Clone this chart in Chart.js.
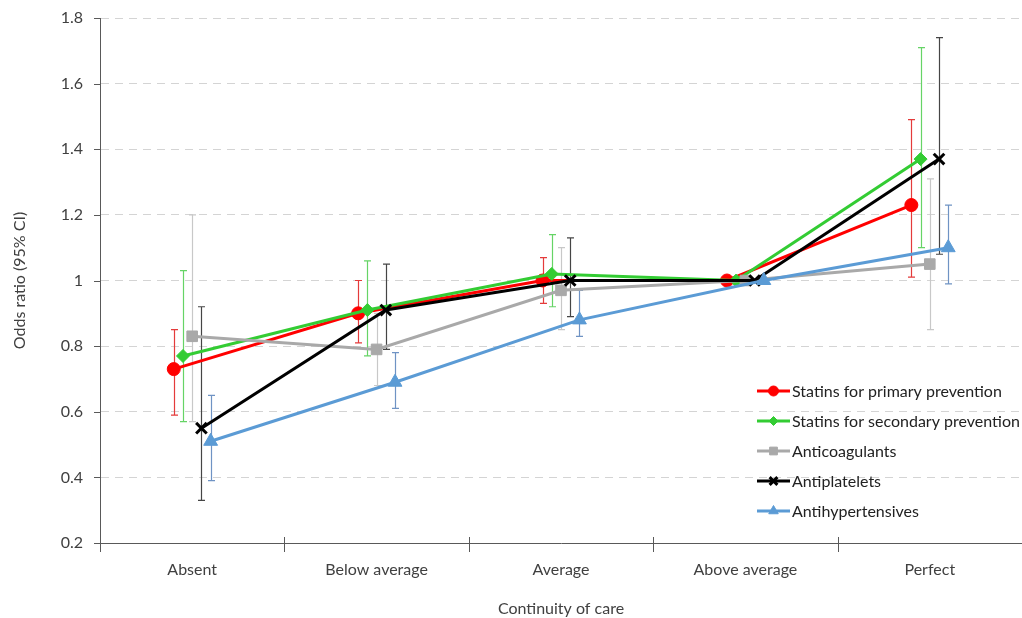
<!DOCTYPE html>
<html>
<head>
<meta charset="utf-8">
<script src="https://cdn.jsdelivr.net/npm/chart.js@4.4.1/dist/chart.umd.min.js"></script>
<style>
  html, body { margin: 0; padding: 0; background: #ffffff; }
  #wrap { width: 1022px; height: 618px; }
</style>
</head>
<body>
<div id="wrap"><canvas id="c" width="1022" height="618"></canvas></div>
<script>
// ---- data ----
const categories = ['Absent', 'Below average', 'Average', 'Above average', 'Perfect'];
const yTicks = [0.2, 0.4, 0.6, 0.8, 1.0, 1.2, 1.4, 1.6, 1.8];
const seriesNames = ['Statins for primary prevention', 'Statins for secondary prevention', 'Anticoagulants', 'Antiplatelets', 'Antihypertensives'];

const primaryOR  = [0.73, 0.90, 1.00, 1.00, 1.23];
const primaryLo  = [0.59, 0.81, 0.93, null, 1.01];
const primaryHi  = [0.85, 1.00, 1.07, null, 1.49];

const secondaryOR = [0.77, 0.91, 1.02, 1.00, 1.37];
const secondaryLo = [0.57, 0.77, 0.92, null, 1.10];
const secondaryHi = [1.03, 1.06, 1.14, null, 1.71];

const anticoagOR = [0.83, 0.79, 0.97, 1.00, 1.05];
const anticoagLo = [0.57, 0.68, 0.85, null, 0.85];
const anticoagHi = [1.20, 0.90, 1.10, null, 1.31];

const antiplateletOR = [0.55, 0.91, 1.00, 1.00, 1.37];
const antiplateletLo = [0.33, 0.79, 0.89, null, 1.08];
const antiplateletHi = [0.92, 1.05, 1.13, null, 1.74];

const antihypOR = [0.51, 0.69, 0.88, 1.00, 1.10];
const antihypLo = [0.39, 0.61, 0.83, null, 0.99];
const antihypHi = [0.65, 0.78, 0.97, null, 1.23];

// ---- styling ----
const FONT = 'Lato, "Liberation Sans", sans-serif';
const FS = 16;
const dodge = 0.05; // horizontal separation of series inside a category (in category units)

const styles = [
  { color: '#ff0000', err: '#e43b3b', point: 'circle',   radius: 6.5, bw: 1, lr: 5 },
  { color: '#33cc33', err: '#66d466', point: 'rectRot',  radius: 6.5, bw: 1, lr: 4.5 },
  { color: '#a9a9a9', err: '#c8c8c8', point: 'rect',     radius: 7.5, bw: 1, lr: 5.5 },
  { color: '#000000', err: '#454545', point: 'crossRot', radius: 7.5, bw: 3, lr: 5.5 },
  { color: '#5b9bd5', err: '#6f93c4', point: 'triangle', radius: 8,   bw: 1, lr: 5.5 }
];
const seriesVals = [primaryOR, secondaryOR, anticoagOR, antiplateletOR, antihypOR];
const seriesLo = [primaryLo, secondaryLo, anticoagLo, antiplateletLo, antihypLo];
const seriesHi = [primaryHi, secondaryHi, anticoagHi, antiplateletHi, antihypHi];

const datasets = seriesNames.map((name, s) => {
  const st = styles[s];
  return {
    label: name,
    data: seriesVals[s].map((v, i) => ({ x: i + (s - 2) * dodge, y: v })),
    lo: seriesLo[s],
    hi: seriesHi[s],
    errColor: st.err,
    legendRadius: st.lr,
    borderColor: st.color,
    backgroundColor: st.color,
    borderWidth: 3,
    pointStyle: st.point,
    pointRadius: st.radius,
    pointHoverRadius: st.radius,
    pointBackgroundColor: st.color,
    pointBorderColor: st.color,
    pointBorderWidth: st.bw,
    tension: 0,
    order: 5 - s
  };
});

// error bars drawn through the scales, beneath the series
const errorBars = {
  id: 'errorBars',
  beforeDatasetsDraw(chart) {
    const { ctx, scales: { x, y } } = chart;
    ctx.save();
    chart.data.datasets.forEach(ds => {
      ctx.strokeStyle = ds.errColor;
      ctx.lineWidth = 1.2;
      ds.data.forEach((p, i) => {
        const lo = ds.lo[i], hi = ds.hi[i];
        if (lo == null || hi == null) return;
        const px = Math.round(x.getPixelForValue(p.x)) + 0.5;
        const yl = y.getPixelForValue(lo), yh = y.getPixelForValue(hi);
        ctx.beginPath();
        ctx.moveTo(px, yl); ctx.lineTo(px, yh);
        ctx.moveTo(px - 3.5, yl); ctx.lineTo(px + 3.5, yl);
        ctx.moveTo(px - 3.5, yh); ctx.lineTo(px + 3.5, yh);
        ctx.stroke();
      });
    });
    ctx.restore();
  }
};

// crossing tick marks like the original axes
const crossTicks = {
  id: 'crossTicks',
  afterDraw(chart) {
    const { ctx, scales: { x, y }, chartArea } = chart;
    ctx.save();
    ctx.strokeStyle = '#595959';
    ctx.lineWidth = 1;
    ctx.beginPath();
    for (let i = 0; i < categories.length - 1; i++) {
      const px = Math.round(x.getPixelForValue(i + 0.5)) + 0.5;
      ctx.moveTo(px, chartArea.bottom - 6);
      ctx.lineTo(px, chartArea.bottom + 9);
    }
    yTicks.forEach(v => {
      const py = Math.round(y.getPixelForValue(v)) + 0.5;
      ctx.moveTo(chartArea.left - 6, py);
      ctx.lineTo(chartArea.left, py);
    });
    const ax = Math.round(chartArea.left) + 0.5;
    ctx.moveTo(ax, chartArea.bottom);
    ctx.lineTo(ax, chartArea.bottom + 9);
    ctx.stroke();
    ctx.restore();
  }
};

// legend inside the plot area, lower right: line + marker + label
const insideLegend = {
  id: 'insideLegend',
  afterDraw(chart) {
    const ctx = chart.ctx;
    const x0 = 757, x1 = 790, top = 391, step = 30;
    ctx.save();
    chart.data.datasets.forEach((ds, k) => {
      const yy = top + k * step;
      ctx.strokeStyle = ds.borderColor;
      ctx.lineWidth = 3;
      ctx.beginPath();
      ctx.moveTo(x0, yy); ctx.lineTo(x1, yy);
      ctx.stroke();
      ctx.fillStyle = ds.pointBackgroundColor;
      ctx.strokeStyle = ds.pointBorderColor;
      ctx.lineWidth = ds.pointBorderWidth;
      Chart.helpers.drawPoint(ctx, { pointStyle: ds.pointStyle, radius: ds.legendRadius, borderWidth: ds.pointBorderWidth, rotation: 0 }, (x0 + x1) / 2, yy);
      ctx.fillStyle = '#222222';
      ctx.font = FS + 'px ' + FONT;
      ctx.textAlign = 'left';
      ctx.textBaseline = 'middle';
      ctx.fillText(ds.label, x1 + 2, yy + 1);
    });
    ctx.restore();
  }
};

new Chart(document.getElementById('c'), {
  type: 'line',
  data: { datasets },
  plugins: [errorBars, crossTicks, insideLegend],
  options: {
    responsive: false,
    animation: false,
    devicePixelRatio: 1,
    layout: { autoPadding: false, padding: { top: 18, right: 0, left: 0, bottom: 0 } },
    plugins: {
      legend: { display: false },
      tooltip: { enabled: false }
    },
    scales: {
      x: {
        type: 'linear',
        min: -0.5,
        max: categories.length - 0.5,
        afterBuildTicks(scale) {
          const t = [];
          for (let i = -0.5; i <= categories.length - 0.5 + 1e-9; i += 0.5) t.push({ value: i });
          scale.ticks = t;
        },
        afterFit(scale) {
          scale.height = 75;
          scale.paddingLeft = 0;
          scale.paddingRight = 0;
        },
        ticks: {
          autoSkip: false,
          maxRotation: 0,
          padding: 0,
          color: '#404040',
          font: { family: FONT, size: FS },
          callback: (v) => Number.isInteger(v) ? categories[v] : ''
        },
        grid: { display: true, drawOnChartArea: false, drawTicks: true, tickLength: 17, tickColor: 'rgba(0,0,0,0)' },
        border: { display: true, color: '#595959', width: 1 },
        title: {
          display: true,
          text: 'Continuity of care',
          color: '#404040',
          font: { family: FONT, size: FS },
          padding: { top: 0, bottom: 0 }
        }
      },
      y: {
        type: 'linear',
        min: yTicks[0],
        max: yTicks[yTicks.length - 1],
        afterBuildTicks(scale) {
          scale.ticks = yTicks.map(v => ({ value: v }));
        },
        afterFit(scale) { scale.width = 100; },
        ticks: {
          padding: 0,
          color: '#404040',
          font: { family: FONT, size: FS },
          callback: (v) => String(Math.round(v * 10) / 10)
        },
        grid: { display: true, drawOnChartArea: true, drawTicks: true, tickLength: 17, tickColor: 'rgba(0,0,0,0)', color: '#d4d4d4', lineWidth: 1 },
        border: { display: true, color: '#595959', width: 1, dash: [8, 6] },
        title: {
          display: true,
          text: 'Odds ratio (95% CI)',
          color: '#404040',
          font: { family: FONT, size: FS },
          padding: { top: 10, bottom: 0 }
        }
      }
    }
  }
});
</script>
</body>
</html>
